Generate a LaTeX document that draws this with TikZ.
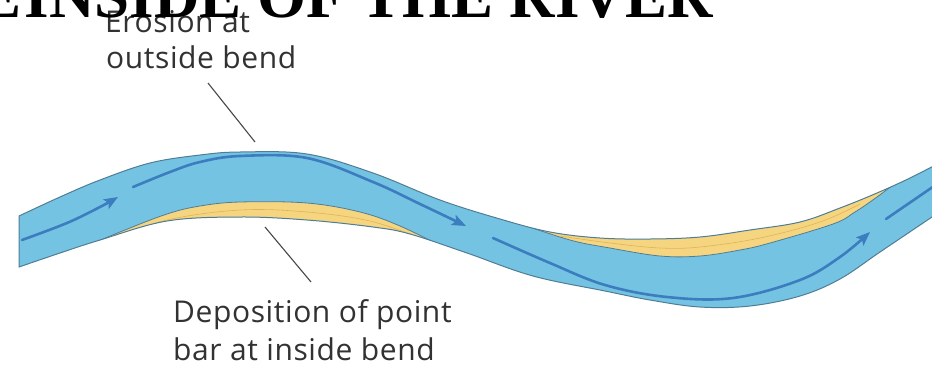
\documentclass[tikz,border=0pt]{standalone}
\usepackage{fontspec}
\setmainfont{Open Sans}[LetterSpace=2.0]
\newfontfamily\titlefont{Liberation Serif}
\usetikzlibrary{arrows.meta}
\definecolor{water}{RGB}{116,195,226}
\definecolor{bankline}{RGB}{80,125,150}
\definecolor{sand}{RGB}{246,213,128}
\definecolor{sandline}{RGB}{222,180,90}
\definecolor{flow}{RGB}{60,125,192}
\definecolor{labeltext}{RGB}{50,50,50}
\tikzset{
  flowline/.style={draw=flow, line width=2.6pt, line cap=round},
  flowarrow/.style={flowline, -{Stealth[length=14pt, width=11pt, inset=3pt]}},
  leader/.style={draw=labeltext!90, line width=1.1pt},
  lbl/.style={font=\fontsize{30}{36}\selectfont, text=labeltext, inner sep=0pt, anchor=base west},
  riverfill/.style={fill=water},
  riveredge/.style={draw=bankline, line width=1pt},
  baredge/.style={draw=bankline, line width=0.8pt},
}
\begin{document}
\begin{tikzpicture}[x=1pt, y=-1pt]
\useasboundingbox (0,0) rectangle (932,365);
\clip (0,0) rectangle (932,365);
\fill[white] (0,0) rectangle (932,365);

% river shape
\def\riverpath{
  plot[smooth, tension=0.6] coordinates {(19,216) (60,197) (100,180) (150,163) (200,155) (240,152) (307,154) (373,173) (440,200) (500,219) (550,232) (600,238) (650,239) (700,237) (750,230) (800,222) (840,208) (877,193) (910,178) (945,160)}
  -- (945,208) --
  plot[smooth, tension=0.6] coordinates {(932,217) (880,252) (840,279) (800,296) (750,306) (700,307) (650,300) (605,291) (533,276) (467,253) (410,234) (373,227) (307,220) (240,217) (167,221) (100,240) (60,253) (19,267)}
  -- cycle}

\path[riverfill] \riverpath;

\begin{scope}
  \clip \riverpath;
  % point bar on the first (upper) bend
  \fill[sand] plot[smooth, tension=0.6] coordinates {(70,253) (120,232) (167,214) (200,206) (240,202) (307,203) (360,212) (400,226) (445,248)} -- (445,320) -- (70,320) -- cycle;
  \draw[sandline, line width=0.6pt] plot[smooth, tension=0.6] coordinates {(110,239) (167,220) (240,210) (307,212) (370,221) (420,238)};
  \draw[baredge] plot[smooth, tension=0.6] coordinates {(70,253) (120,232) (167,214) (200,206) (240,202) (307,203) (360,212) (400,226) (445,248)};
  % point bar on the second (lower) bend
  \fill[sand] plot[smooth, tension=0.6] coordinates {(515,222) (570,240) (610,248) (660,256) (700,256) (740,250) (770,243) (833,224) (855,212) (877,197) (905,176)} -- (905,140) -- (515,140) -- cycle;
  \draw[sandline, line width=0.6pt] plot[smooth, tension=0.6] coordinates {(560,236) (610,243) (660,248) (700,247) (760,238) (820,222) (860,204)};
  \draw[baredge] plot[smooth, tension=0.6] coordinates {(515,222) (570,240) (610,248) (660,256) (700,256) (740,250) (770,243) (833,224) (855,212) (877,197) (905,176)};
\end{scope}

\path[riveredge] \riverpath;

% flow lines
\draw[flowarrow] plot[smooth, tension=0.6] coordinates {(22,240) (67,223) (100,207) (118,197)};
\draw[flowarrow] plot[smooth, tension=0.6] coordinates {(133,187) (170,172) (200,162) (240,156) (307,158) (373,182) (420,204) (466,226)};
\draw[flowarrow] plot[smooth, tension=0.6] coordinates {(493,238) (550,263) (605,285) (667,297) (733,298) (800,280) (840,257) (870,232)};
\draw[flowline] plot coordinates {(886,219) (940,182)};

% labels
\node[lbl] (ero1) at (105,32) {Erosion at};
\node[lbl] (ero2) at (106,68) {outside bend};
\node[lbl] (dep1) at (173,322) {Deposition of point};
\node[lbl] (dep2) at (173,360) {bar at inside bend};

\coordinate (eroA) at (208,83);
\coordinate (eroB) at (255,142);
\coordinate (depA) at (265,227);
\coordinate (depB) at (311,282);
\draw[leader] (eroA) -- (eroB);
\draw[leader] (depA) -- (depB);

% title (cut off by the top edge)
\node[font=\titlefont\bfseries\fontsize{63}{63}\selectfont, inner sep=0pt, anchor=base east] (title) at (713,17) {E\hspace{0.06em}INSIDE OF THE RIVER};
\end{tikzpicture}
\end{document}
